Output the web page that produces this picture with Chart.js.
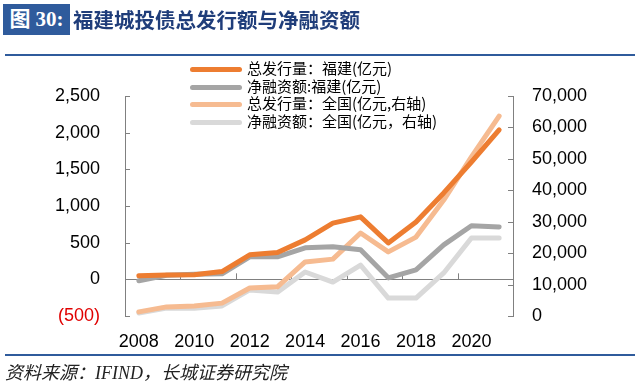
<!DOCTYPE html>
<html>
<head>
<meta charset="utf-8">
<script src="https://cdn.jsdelivr.net/npm/chart.js@4/dist/chart.umd.min.js"></script>
<style>
  body { margin: 0; background: #fff; }
  #wrap { position: relative; width: 640px; height: 386px; overflow: hidden; background: #fff; }
  #chart { position: absolute; left: 0; top: 0; }
  .tag { position: absolute; left: 3px; top: 4px; width: 67px; height: 31px; background: #2f5b9c; color: #fff;
         font: bold 21px "Liberation Serif", "Noto Sans CJK SC", serif; line-height: 31px; text-align: center; }
  .title { position: absolute; left: 73px; top: 4px; height: 31px; line-height: 31px; color: #1f3d7a;
           font: bold 20.5px "Noto Sans CJK SC", sans-serif; }
  .rule { position: absolute; left: 5px; width: 630px; height: 2px; background: #2f5b9c; }
  .source { position: absolute; left: 5px; top: 358px; font: italic 18px "Liberation Serif", "Noto Sans CJK SC", serif; color: #222; }
  #legend { position: absolute; left: 190px; top: 59px; font: 15px "Noto Sans CJK SC", sans-serif; color: #000; }
  #legend div { height: 17.5px; line-height: 17.5px; white-space: nowrap; }
  #legend span.sw { display: inline-block; width: 52px; height: 5px; border-radius: 3px; vertical-align: middle; margin-right: 5px; }
</style>
</head>
<body>
<div id="wrap">
  <canvas id="chart" width="640" height="386"></canvas>
  <div class="tag">图 30:</div>
  <div class="title">福建城投债总发行额与净融资额</div>
  <div class="rule" style="top:54px"></div>
  <div class="rule" style="top:354px"></div>
  <div class="source">资料来源：IFIND，长城证券研究院</div>
  <div id="legend"></div>
</div>
<script>
const years = ['2008', '2009', '2010', '2011', '2012', '2013', '2014', '2015', '2016', '2017', '2018', '2019', '2020', '2021'];
// left axis (亿元)
const fjIssue = [48, 60, 62, 106, 334, 365, 538, 767, 852, 497, 783, 1178, 1600, 2037];
const fjNet = [-20, 55, 70, 75, 307, 307, 430, 443, 402, 20, 130, 470, 730, 715];
// right axis (亿元)
const cnIssue = [1300, 2900, 3200, 4100, 8900, 9300, 17200, 18100, 26400, 20400, 25100, 36900, 50600, 63600];
const cnNet = [950, 2500, 2500, 3200, 8300, 7600, 14000, 10800, 16200, 5700, 5700, 13700, 24800, 24800];

const seriesNames = ['总发行量：福建(亿元)', '净融资额:福建(亿元)', '总发行量：全国(亿元,右轴)', '净融资额：全国(亿元，右轴)'];
const seriesColors = ['#ed7d31', '#a5a5a5', '#f6bb91', '#d9d9d9'];

const fmt = v => Math.abs(v).toLocaleString('en-US');

// small tick marks pointing into the plot, drawn from the scales
const axisTicks = {
    id: 'axisTicks',
    beforeDatasetsDraw(chart) {
        const ctx = chart.ctx;
        const x = chart.scales.x, y = chart.scales.y, y1 = chart.scales.y1;
        ctx.save();
        ctx.strokeStyle = '#808080';
        ctx.lineWidth = 1;
        ctx.beginPath();
        y.ticks.forEach(t => {
            const p = Math.round(y.getPixelForValue(t.value)) + 0.5;
            ctx.moveTo(y.right, p);
            ctx.lineTo(y.right + 5, p);
        });
        y1.ticks.forEach(t => {
            const p = Math.round(y1.getPixelForValue(t.value)) + 0.5;
            ctx.moveTo(y1.left, p);
            ctx.lineTo(y1.left - 5, p);
        });
        const zero = y.getPixelForValue(0);
        for (let i = 2; i < years.length; i += 2) {
            const px = Math.round((x.getPixelForValue(i - 1) + x.getPixelForValue(i)) / 2) + 0.5;
            ctx.moveTo(px, zero);
            ctx.lineTo(px, zero - 6);
        }
        ctx.stroke();
        ctx.restore();
    }
};

function lineSet(label, data, color, axis) {
    return {
        label: label,
        data: data,
        yAxisID: axis,
        borderColor: color,
        backgroundColor: color,
        borderWidth: 5,
        pointRadius: 0,
        tension: 0,
        borderCapStyle: 'round',
        borderJoinStyle: 'round'
    };
}

const tickFont = { family: '"Liberation Sans", Arial, sans-serif', size: 18 };

new Chart(document.getElementById('chart').getContext('2d'), {
    type: 'line',
    data: {
        labels: years,
        datasets: [
            lineSet(seriesNames[0], fjIssue, seriesColors[0], 'y'),
            lineSet(seriesNames[1], fjNet, seriesColors[1], 'y'),
            lineSet(seriesNames[2], cnIssue, seriesColors[2], 'y1'),
            lineSet(seriesNames[3], cnNet, seriesColors[3], 'y1')
        ]
    },
    options: {
        responsive: false,
        animation: false,
        layout: { padding: { top: 96, left: 0, right: 0, bottom: 0 } },
        plugins: {
            legend: { display: false },
            tooltip: { enabled: false }
        },
        scales: {
            x: {
                offset: true,
                grid: { display: false },
                border: { display: false },
                afterFit: s => { s.height = 70; },
                ticks: {
                    autoSkip: false,
                    maxRotation: 0,
                    padding: 7,
                    color: '#000',
                    font: tickFont,
                    callback: (v, i) => (i % 2 === 0 ? years[i] : '')
                }
            },
            y: {
                position: 'left',
                min: -500,
                max: 2500,
                afterFit: s => { s.width = 125; },
                border: { display: true, color: '#808080', width: 1 },
                grid: {
                    drawTicks: false,
                    color: c => (c.tick && c.tick.value === 0 ? '#808080' : 'rgba(0,0,0,0)')
                },
                ticks: {
                    stepSize: 500,
                    padding: 25,
                    font: tickFont,
                    color: c => (c.tick.value < 0 ? '#e00000' : '#000'),
                    callback: v => (v < 0 ? '(' + fmt(v) + ')' : fmt(v))
                }
            },
            y1: {
                position: 'right',
                min: 0,
                max: 70000,
                afterFit: s => { s.width = 127; },
                border: { display: true, color: '#808080', width: 1 },
                grid: { drawTicks: false, drawOnChartArea: false },
                ticks: {
                    stepSize: 10000,
                    padding: 19,
                    font: tickFont,
                    color: '#000',
                    callback: v => fmt(v)
                }
            }
        }
    },
    plugins: [axisTicks]
});

// legend built from the same names and colours
const legend = document.getElementById('legend');
seriesNames.forEach((name, i) => {
    const row = document.createElement('div');
    const sw = document.createElement('span');
    sw.className = 'sw';
    sw.style.background = seriesColors[i];
    row.appendChild(sw);
    row.appendChild(document.createTextNode(name));
    legend.appendChild(row);
});
</script>
</body>
</html>
